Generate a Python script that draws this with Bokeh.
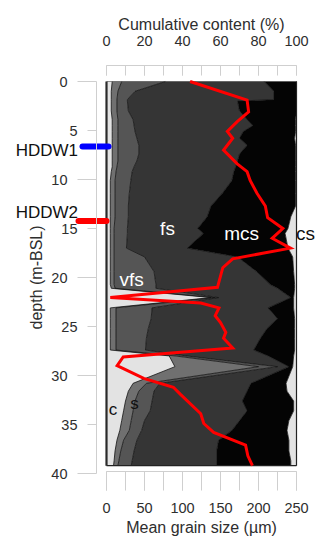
import numpy as np
from bokeh.plotting import figure
from bokeh.models import Range1d, LinearAxis, FixedTicker, SingleIntervalTicker, Label
from bokeh.embed import file_html
from bokeh.resources import INLINE

# ---------------- data ----------------
depth_area = [0.0, 1.0, 1.85, 2.0, 3.0, 3.9, 4.5, 5.1, 5.8, 6.5, 7.4, 8.1, 8.7, 9.2,
              10.1, 11.4, 12.7, 13.8, 15.0, 15.5, 17.0, 17.9, 19.4, 20.7, 21.1, 22.05,
              23.1, 24.2, 25.2, 26.2, 27.4, 28.0, 29.1, 30.8, 31.6, 32.6, 33.6, 34.6,
              35.6, 36.6, 37.7, 38.7, 39.2]
# cumulative content (%) at the upper edge of each class
clay_cum = [3, 2.5, 2.5, 2.5, 2.5, 3, 3, 3, 3, 3, 3, 3, 3, 2.5,
            2, 2, 2, 2, 2, 2, 2, 2, 2, 2, 2.5, 55,
            2, 2, 2, 2, 2, 33, 36, 14, 11.5, 10, 9, 8,
            7, 5.5, 4.5, 4, 3.7]
silt_cum = [8, 6, 5.5, 5.5, 5.5, 6, 6, 6, 6, 6, 6, 6, 5.5, 5,
            4.5, 4.5, 4.5, 4.5, 4, 4, 4, 4, 4, 4, 4.5, 57,
            5, 5, 5, 5, 5, 36, 80, 21, 17, 15, 14, 13,
            12, 9, 7.5, 6.5, 6]
vfs_cum = [31, 15, 11, 11, 11.5, 14, 14.5, 15, 16, 17, 17, 16, 14.5, 13.5,
           12.8, 12, 11.5, 11.5, 11, 11, 10.5, 20, 25, 26, 26, 59,
           24, 23.5, 22, 21, 20.5, 42, 90, 28, 25, 24, 23, 20,
           18.5, 16, 14.5, 13.5, 13]
fs_cum = [83, 88, 88, 69, 70, 74, 77, 72, 70, 74, 70, 69, 68, 67,
          66, 61, 55, 53, 48, 51, 42.5, 69, 79, 86, 90, 97,
          85, 90, 84.5, 81, 77.5, 85, 96, 76, 74, 71.5, 74, 70,
          66, 59, 58, 58, 58]
mcs_cum = [100, 100, 100, 100, 100, 99.5, 99.5, 99.5, 99, 99.5, 99.5, 99.5, 99.5, 99.5,
           99.5, 99.5, 99.5, 97, 95.5, 94, 95.5, 98, 98.5, 99, 99, 98.5,
           98.5, 99, 99, 99, 99, 98.5, 98, 94.5, 95, 98.5, 98.5, 96,
           95, 96, 96, 97, 97]

depth_mgs = [0.0, 1.9, 3.1, 4.1, 5.1, 5.8, 6.3, 7.0, 8.4, 9.2, 10.1, 11.4, 12.7, 13.9,
             15.0, 16.0, 17.0, 18.1, 19.0, 21.0, 22.05, 22.6, 23.1, 23.9, 24.6, 25.6,
             26.2, 27.2, 28.1, 29.0, 30.3, 31.2, 31.9, 33.9, 34.9, 35.8, 37.1, 38.2, 39.2]
mgs_um = [110, 185, 187, 172, 159, 166, 161, 154, 172, 185, 189, 198, 209, 212,
          232, 218, 242, 166, 153, 146, 5, 124, 148, 143, 150, 157,
          154, 166, 22, 14, 49, 88, 97, 124, 128, 141, 183, 186, 192]

class_names = ["c", "s", "vfs", "fs", "mcs", "cs"]
class_colors = ["#e3e3e3", "#707070", "#555555", "#353535", "#040404", "#e3e3e3"]

wells = ["HDDW1", "HDDW2"]
well_depth = [6.63, 14.23]
well_label_depth = [7.04, 13.4]
well_colors = ["#0000ff", "#ff0000"]

depth_ticks_major = [0, 10, 20, 30, 40]
depth_ticks_minor = [5, 15, 25, 35]

# ---------------- layout (frame = whole canvas) ----------------
FONT = "Liberation Sans"
W, H = 320, 538
X0_PX, X1_PX = 106, 296      # 0 % and 100 %
Y0_PX, Y40_PX = 81, 473      # depth 0 and 40 m
px_x = (X1_PX - X0_PX) / 100.0
px_y = (Y40_PX - Y0_PX) / 40.0
px_um = (X1_PX - X0_PX) / 250.0

x_rng = Range1d(-X0_PX / px_x, 100 + (W - X1_PX) / px_x)
y_rng = Range1d(40 + (H - Y40_PX) / px_y, -Y0_PX / px_y)
um_rng = Range1d(-X0_PX / px_um, 250 + (W - X1_PX) / px_um)

p = figure(width=W, height=H, x_range=x_rng, y_range=y_rng, title=None,
           x_axis_location=None, y_axis_location=None, toolbar_location=None,
           output_backend="svg", min_border_left=0, min_border_right=0,
           min_border_top=0, min_border_bottom=0)
p.outline_line_color = None
p.grid.visible = False
p.background_fill_color = "white"
p.border_fill_color = "white"
p.extra_x_ranges = {"um": um_rng}

depth = np.array(depth_area)
bounds = [np.zeros(len(depth)), np.array(clay_cum), np.array(silt_cum), np.array(vfs_cum),
          np.array(fs_cum), np.array(mcs_cum), np.full(len(depth), 100.0)]

for i, col in enumerate(class_colors):
    p.harea(y=depth, x1=bounds[i], x2=bounds[i + 1], fill_color=col, fill_alpha=1.0)

for b in bounds[1:6]:
    p.line(x=b, y=depth, line_color="#111111", line_width=0.8)

# outer edges of the profile
p.line(x=[100, 100], y=[depth[0], depth[-1]], line_color="#222222", line_width=1.2)
p.line(x=[0, 100], y=[depth[-1], depth[-1]], line_color="#222222", line_width=1.2)
p.line(x=[0, 100], y=[depth[0], depth[0]], line_color="#444444", line_width=0.6)
p.line(x=[0, 0], y=[depth[0], depth[-1]], line_color="#2a2a2a", line_width=2.2)

# mean grain size
p.line(x=mgs_um, y=depth_mgs, x_range_name="um", line_color="#ff0000", line_width=3,
       line_join="miter")

# well markers
for name, d, ld, c, x0px, x1px in zip(wells, well_depth, well_label_depth, well_colors,
                                      [-24, -28], [2, 0]):
    p.segment(x0=[x0px / px_x], y0=[d], x1=[x1px / px_x], y1=[d], line_color=c,
              line_width=6, line_cap="round")
    p.add_layout(Label(x=-28.5 / px_x, y=ld, text=name, text_align="right",
                       text_baseline="middle", text_font=FONT, text_font_size="17px",
                       text_color="#111111"))

# class labels
lab_spec = [("fs", 32.1, 15.0, "white", "19px"),
            ("mcs", 71.1, 15.56, "white", "19px"),
            ("vfs", 13.2, 20.2, "white", "19px"),
            ("cs", 104.7, 15.5, "#111111", "19px"),
            ("c", 3.4, 33.5, "#111111", "17px"),
            ("s", 14.7, 32.9, "#111111", "17px")]
for t, x, y, c, fs in lab_spec:
    p.add_layout(Label(x=x, y=y, text=t, text_align="center", text_baseline="middle",
                       text_font=FONT, text_font_size=fs, text_color=c))

# ---------------- axes ----------------
AX_COL = "#cfcfcf"
TXT_COL = "#2e2e2e"

def style(ax):
    ax.axis_line_color = AX_COL
    ax.major_tick_line_color = AX_COL
    ax.minor_tick_line_color = AX_COL
    ax.major_label_text_font = FONT
    ax.major_label_text_font_size = "14.5px"
    ax.major_label_text_color = TXT_COL
    ax.axis_label_text_font = FONT
    ax.axis_label_text_font_size = "16px"
    ax.axis_label_text_font_style = "normal"
    ax.axis_label_text_color = TXT_COL

left_loc = -10 / px_x
ya = LinearAxis(fixed_location=left_loc, bounds=(0, 40),
                ticker=FixedTicker(ticks=depth_ticks_major, minor_ticks=[]))
style(ya)
ya.major_tick_out = 19
ya.major_tick_in = 0
ya.major_label_standoff = 10
ya.axis_label = "depth (m-BSL)"
ya.axis_label_standoff = 3
p.add_layout(ya, "left")

yb = LinearAxis(fixed_location=left_loc, bounds=(0, 40),
                ticker=FixedTicker(ticks=depth_ticks_minor, minor_ticks=[]))
style(yb)
yb.axis_line_color = None
yb.major_tick_out = 9
yb.major_tick_in = 0
yb.major_label_standoff = 10
p.add_layout(yb, "left")

xt = LinearAxis(fixed_location=-16 / px_y, bounds=(0, 100),
                ticker=SingleIntervalTicker(interval=20, num_minor_ticks=2))
style(xt)
xt.major_tick_in = 10
xt.major_tick_out = 0
xt.minor_tick_in = 10
xt.minor_tick_out = 0
xt.major_label_standoff = 20
xt.axis_label = "Cumulative content (%)"
xt.axis_label_standoff = 0
p.add_layout(xt, "above")

xb = LinearAxis(x_range_name="um", fixed_location=40 - 2 / px_y, bounds=(0, 250),
                ticker=SingleIntervalTicker(interval=50, num_minor_ticks=2))
style(xb)
xb.major_tick_out = 19
xb.major_tick_in = 0
xb.minor_tick_out = 19
xb.minor_tick_in = 0
xb.major_label_standoff = 12
xb.axis_label = "Mean grain size (\u00b5m)"
xb.axis_label_standoff = 3
p.add_layout(xb, "below")

open("out.html", "w").write(file_html(p, INLINE))
